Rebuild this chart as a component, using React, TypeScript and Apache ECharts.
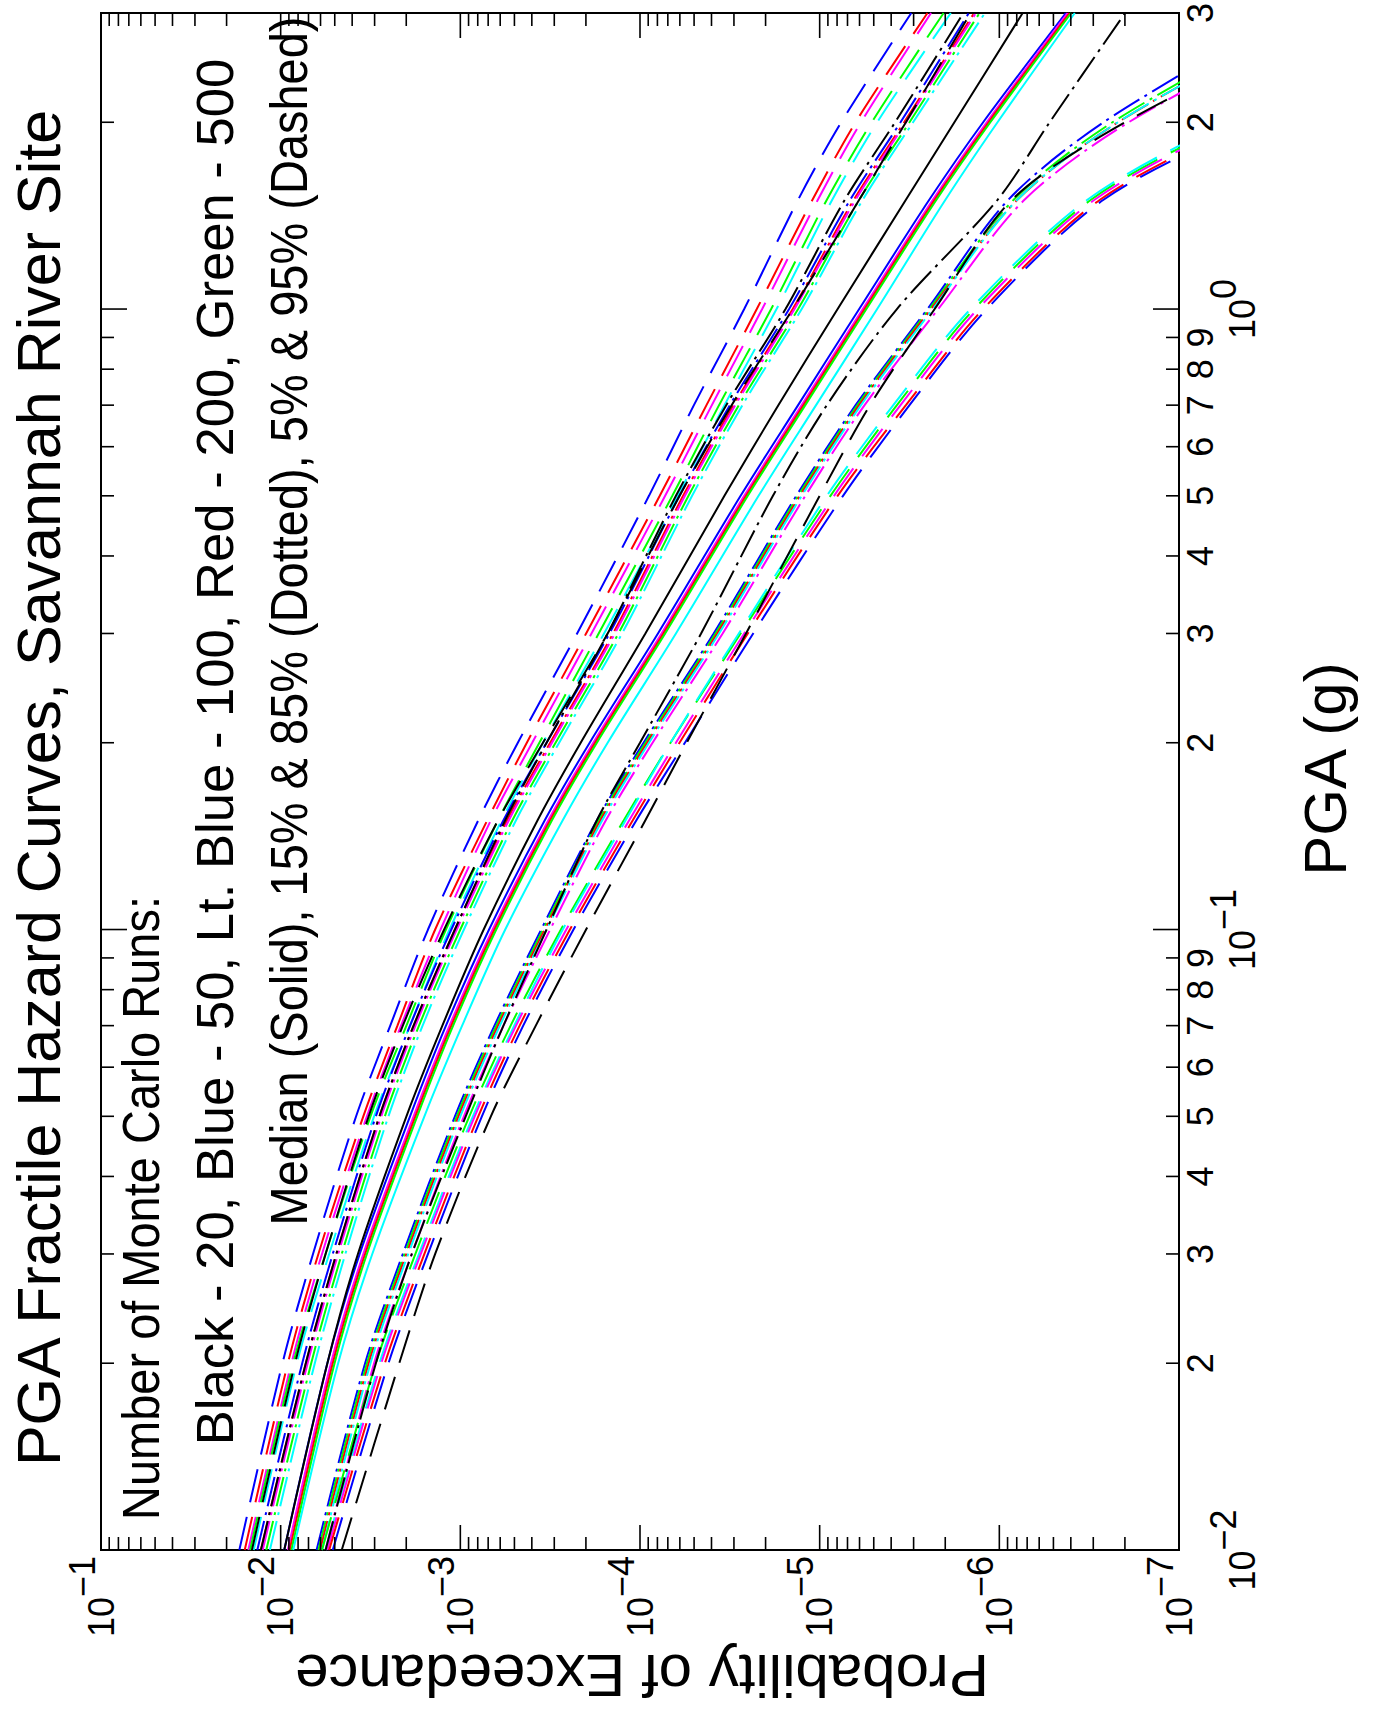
import { useEffect, useRef } from 'react';
import * as echarts from 'echarts';

// ---------- data ----------
// PGA values (g) at which every curve was read
const PGA_G = [0.01, 0.02, 0.03, 0.05, 0.07, 0.1, 0.15, 0.2, 0.3, 0.5, 0.7, 1.0, 1.5, 2.0, 3.0];

// log10(probability of exceedance) at each PGA_G value
// 95% fractile (dashed)
const BLUE_P95 = [-1.77, -2.01, -2.18, -2.42, -2.61, -2.82, -3.10, -3.32, -3.65, -4.05, -4.30, -4.58, -4.88, -5.12, -5.51];
const RED_P95 = [-1.80, -2.04, -2.21, -2.46, -2.65, -2.86, -3.15, -3.37, -3.70, -4.11, -4.37, -4.65, -4.96, -5.20, -5.60];
const MAGENTA_P95 = [-1.82, -2.06, -2.23, -2.48, -2.67, -2.89, -3.17, -3.40, -3.73, -4.14, -4.40, -4.68, -4.99, -5.23, -5.62];
const GREEN_P95 = [-1.83, -2.07, -2.25, -2.50, -2.70, -2.92, -3.21, -3.44, -3.77, -4.18, -4.44, -4.73, -5.04, -5.29, -5.69];
const CYAN_P95 = [-1.85, -2.09, -2.27, -2.52, -2.72, -2.94, -3.23, -3.46, -3.80, -4.21, -4.47, -4.76, -5.07, -5.32, -5.73];
const BLACK_P95 = [-1.84, -2.08, -2.25, -2.49, -2.68, -2.91, -3.21, -3.46, -3.82, -4.22, -4.51, -4.85, -5.22, -5.48, -5.84];
// 85% fractile (dotted)
const BLUE_P85 = [-1.87, -2.12, -2.29, -2.53, -2.72, -2.95, -3.24, -3.48, -3.83, -4.22, -4.50, -4.83, -5.17, -5.45, -5.83];
const RED_P85 = [-1.89, -2.14, -2.31, -2.55, -2.74, -2.97, -3.26, -3.50, -3.85, -4.24, -4.52, -4.85, -5.19, -5.47, -5.86];
const MAGENTA_P85 = [-1.90, -2.15, -2.32, -2.56, -2.75, -2.98, -3.27, -3.51, -3.86, -4.25, -4.53, -4.86, -5.20, -5.48, -5.87];
const GREEN_P85 = [-1.92, -2.17, -2.34, -2.58, -2.77, -3.00, -3.29, -3.53, -3.88, -4.27, -4.55, -4.88, -5.22, -5.50, -5.89];
const CYAN_P85 = [-1.94, -2.19, -2.36, -2.60, -2.79, -3.02, -3.31, -3.55, -3.90, -4.29, -4.57, -4.90, -5.24, -5.52, -5.92];
const BLACK_P85 = [-1.89, -2.14, -2.31, -2.55, -2.74, -2.97, -3.25, -3.48, -3.82, -4.20, -4.48, -4.81, -5.14, -5.42, -5.80];
// median (solid)
const BLUE_P50 = [-2.02, -2.26, -2.44, -2.72, -2.92, -3.16, -3.47, -3.72, -4.10, -4.56, -4.88, -5.22, -5.61, -5.91, -6.37];
const MAGENTA_P50 = [-2.04, -2.28, -2.46, -2.74, -2.94, -3.18, -3.49, -3.74, -4.12, -4.58, -4.90, -5.24, -5.63, -5.93, -6.38];
const RED_P50 = [-2.05, -2.29, -2.47, -2.75, -2.95, -3.19, -3.50, -3.75, -4.13, -4.59, -4.91, -5.25, -5.64, -5.94, -6.39];
const GREEN_P50 = [-2.06, -2.30, -2.48, -2.76, -2.96, -3.20, -3.51, -3.76, -4.14, -4.60, -4.92, -5.26, -5.65, -5.95, -6.40];
const CYAN_P50 = [-2.07, -2.32, -2.51, -2.80, -3.01, -3.25, -3.57, -3.82, -4.20, -4.66, -4.98, -5.32, -5.70, -5.99, -6.42];
const BLACK_P50 = [-2.02, -2.26, -2.43, -2.70, -2.90, -3.13, -3.43, -3.67, -4.03, -4.47, -4.77, -5.10, -5.48, -5.75, -6.13];
// 15% fractile (dotted)
const BLUE_P15 = [-2.20, -2.47, -2.68, -2.97, -3.19, -3.45, -3.76, -4.02, -4.41, -4.87, -5.20, -5.60, -6.05, -6.58, -7.60];
const GREEN_P15 = [-2.21, -2.48, -2.69, -2.98, -3.20, -3.46, -3.77, -4.03, -4.42, -4.88, -5.21, -5.61, -6.08, -6.63, -7.70];
const RED_P15 = [-2.22, -2.49, -2.70, -2.99, -3.21, -3.47, -3.78, -4.04, -4.43, -4.89, -5.22, -5.62, -6.10, -6.66, -7.75];
const CYAN_P15 = [-2.23, -2.50, -2.71, -3.00, -3.22, -3.48, -3.79, -4.05, -4.44, -4.90, -5.23, -5.63, -6.10, -6.66, -7.75];
const MAGENTA_P15 = [-2.25, -2.52, -2.73, -3.02, -3.24, -3.50, -3.81, -4.07, -4.46, -4.92, -5.25, -5.66, -6.14, -6.72, -7.85];
const BLACK_P15 = [-2.25, -2.53, -2.73, -3.03, -3.24, -3.48, -3.76, -4.00, -4.34, -4.74, -5.04, -5.43, -5.99, -6.28, -6.70];
// 5% fractile (dashed)
const GREEN_P05 = [-2.23, -2.53, -2.75, -3.05, -3.28, -3.56, -3.91, -4.17, -4.56, -5.06, -5.43, -5.86, -6.51, -7.30, -8.75];
const CYAN_P05 = [-2.25, -2.55, -2.77, -3.07, -3.30, -3.57, -3.92, -4.17, -4.55, -5.04, -5.41, -5.84, -6.49, -7.27, -8.70];
const MAGENTA_P05 = [-2.26, -2.56, -2.78, -3.08, -3.31, -3.59, -3.94, -4.20, -4.58, -5.08, -5.45, -5.88, -6.53, -7.33, -8.80];
const RED_P05 = [-2.27, -2.58, -2.80, -3.10, -3.33, -3.61, -3.96, -4.22, -4.60, -5.10, -5.48, -5.91, -6.56, -7.38, -8.85];
const BLUE_P05 = [-2.29, -2.60, -2.82, -3.12, -3.35, -3.63, -3.98, -4.25, -4.63, -5.13, -5.50, -5.93, -6.58, -7.42, -8.90];
const BLACK_P05 = [-2.34, -2.66, -2.86, -3.17, -3.42, -3.70, -4.03, -4.26, -4.59, -5.00, -5.28, -5.64, -6.07, -6.70, -7.90];

// axis ticks / labels
const PROB_DECADES = [1e-7, 1e-6, 1e-5, 1e-4, 1e-3, 1e-2, 1e-1];
const PGA_DECADES = [0.01, 0.1, 1];
const MINOR_STEPS = [2, 3, 4, 5, 6, 7, 8, 9];
const PGA_DIGIT_LABELS = [0.02, 0.03, 0.04, 0.05, 0.06, 0.07, 0.08, 0.09, 0.2, 0.3, 0.4, 0.5, 0.6, 0.7, 0.8, 0.9, 2, 3];
const PGA_MINOR_TICKS = [0.02, 0.03, 0.04, 0.05, 0.06, 0.07, 0.08, 0.09, 0.2, 0.3, 0.4, 0.5, 0.6, 0.7, 0.8, 0.9, 2];

// texts
const TITLE = 'PGA Fractile Hazard Curves, Savannah River Site';
const LEGEND_1 = 'Number of Monte Carlo Runs:';
const LEGEND_2 = 'Black - 20, Blue - 50, Lt. Blue - 100, Red - 200, Green - 500';
const LEGEND_3 = 'Median (Solid), 15% & 85% (Dotted), 5% & 95% (Dashed)';
const X_NAME = 'Probability of Exceedance';
const Y_NAME = 'PGA (g)';

// ---------- styles ----------
const BLACK = '#000000';
const BLUE = '#0000ff';
const CYAN = '#00ffff';
const RED = '#ff0000';
const GREEN = '#00ff00';
const MAGENTA = '#ff00ff';
const DASHED = [34, 15];
const DOTTED = [30, 6, 3, 6];
const SANS = "'Liberation Sans', Arial, sans-serif";
const NARROW = "'Liberation Sans Narrow', 'Liberation Sans', Arial, sans-serif";

const CURVES = [
  { name: 'Blue 95%', color: BLUE, dash: DASHED, logp: BLUE_P95 },
  { name: 'Red 95%', color: RED, dash: DASHED, logp: RED_P95 },
  { name: 'Magenta 95%', color: MAGENTA, dash: DASHED, logp: MAGENTA_P95 },
  { name: 'Green 95%', color: GREEN, dash: DASHED, logp: GREEN_P95 },
  { name: 'Lt. Blue 95%', color: CYAN, dash: DASHED, logp: CYAN_P95 },
  { name: 'Blue 85%', color: BLUE, dash: DOTTED, logp: BLUE_P85 },
  { name: 'Red 85%', color: RED, dash: DOTTED, logp: RED_P85 },
  { name: 'Magenta 85%', color: MAGENTA, dash: DOTTED, logp: MAGENTA_P85 },
  { name: 'Green 85%', color: GREEN, dash: DOTTED, logp: GREEN_P85 },
  { name: 'Lt. Blue 85%', color: CYAN, dash: DOTTED, logp: CYAN_P85 },
  { name: 'Blue median', color: BLUE, dash: 'solid', logp: BLUE_P50 },
  { name: 'Magenta median', color: MAGENTA, dash: 'solid', logp: MAGENTA_P50 },
  { name: 'Red median', color: RED, dash: 'solid', logp: RED_P50 },
  { name: 'Green median', color: GREEN, dash: 'solid', logp: GREEN_P50 },
  { name: 'Lt. Blue median', color: CYAN, dash: 'solid', logp: CYAN_P50 },
  { name: 'Blue 15%', color: BLUE, dash: DOTTED, logp: BLUE_P15 },
  { name: 'Green 15%', color: GREEN, dash: DOTTED, logp: GREEN_P15 },
  { name: 'Red 15%', color: RED, dash: DOTTED, logp: RED_P15 },
  { name: 'Lt. Blue 15%', color: CYAN, dash: DOTTED, logp: CYAN_P15 },
  { name: 'Magenta 15%', color: MAGENTA, dash: DOTTED, logp: MAGENTA_P15 },
  { name: 'Green 5%', color: GREEN, dash: DASHED, logp: GREEN_P05 },
  { name: 'Lt. Blue 5%', color: CYAN, dash: DASHED, logp: CYAN_P05 },
  { name: 'Magenta 5%', color: MAGENTA, dash: DASHED, logp: MAGENTA_P05 },
  { name: 'Red 5%', color: RED, dash: DASHED, logp: RED_P05 },
  { name: 'Blue 5%', color: BLUE, dash: DASHED, logp: BLUE_P05 },
  { name: 'Black 95%', color: BLACK, dash: DASHED, logp: BLACK_P95 },
  { name: 'Black 85%', color: BLACK, dash: DOTTED, logp: BLACK_P85 },
  { name: 'Black median', color: BLACK, dash: 'solid', logp: BLACK_P50 },
  { name: 'Black 15%', color: BLACK, dash: DOTTED, logp: BLACK_P15 },
  { name: 'Black 5%', color: BLACK, dash: DASHED, logp: BLACK_P05 },
];

// "10" with a raised exponent of the same size (exponent raised by its bottom padding)
const supRich = {
  b: { fontSize: 36, fontFamily: NARROW, color: '#000', verticalAlign: 'bottom' },
  s: { fontSize: 36, fontFamily: NARROW, color: '#000', verticalAlign: 'top', padding: [0, 0, 19, 0] },
};

function decadeLabel(v: number) {
  const e = Math.round(Math.log10(v));
  const sup = e < 0 ? '\u2212' + String(-e) : String(e);
  return '{b|10}{s|' + sup + '}';
}

function digitLabel(v: number) {
  const e = Math.floor(Math.log10(v) + 1e-9);
  return String(Math.round(v / Math.pow(10, e)));
}

function buildOption() {
  const xTicks: number[][] = [];
  PROB_DECADES.forEach((d, i) => {
    xTicks.push([d, 1, 1]);
    if (i < PROB_DECADES.length - 1) MINOR_STEPS.forEach((m) => xTicks.push([d * m, 1, 0]));
  });
  const yTicks: number[][] = [];
  PGA_DECADES.forEach((d) => yTicks.push([1e-3, d, 1]));
  PGA_MINOR_TICKS.forEach((v) => yTicks.push([1e-3, v, 0]));

  const lineSeries = CURVES.map((c) => ({
    type: 'line',
    name: c.name,
    data: PGA_G.map((g, i) => [Math.pow(10, c.logp[i]), g]),
    showSymbol: false,
    symbol: 'none',
    smooth: 0.3,
    clip: true,
    silent: true,
    z: c.color === BLACK ? 4 : 3,
    lineStyle: { color: c.color, width: 2, type: c.dash },
  }));

  const axisCommon = {
    axisLine: { show: false },
    axisTick: { show: false },
    splitLine: { show: false },
    minorTick: { show: false },
    minorSplitLine: { show: false },
  };

  return {
    animation: false,
    backgroundColor: '#ffffff',
    grid: {
      left: 101,
      top: 13,
      right: 199,
      bottom: 166,
      show: true,
      borderColor: '#000',
      borderWidth: 2,
      backgroundColor: 'transparent',
      containLabel: false,
      outerBoundsMode: 'none',
    },
    xAxis: [
      {
        type: 'log',
        logBase: 10,
        min: 1e-7,
        max: 1e-1,
        inverse: true,
        position: 'bottom',
        ...axisCommon,
        axisLabel: {
          show: true,
          rotate: 90,
          margin: 6,
          padding: [0, 0, 19, 0],
          customValues: PROB_DECADES,
          formatter: decadeLabel,
          rich: supRich,
          color: '#000',
        },
      },
    ],
    yAxis: [
      {
        type: 'log',
        logBase: 10,
        min: 0.01,
        max: 3,
        position: 'right',
        ...axisCommon,
        axisLabel: {
          show: true,
          rotate: 90,
          margin: 3,
          customValues: PGA_DIGIT_LABELS,
          formatter: digitLabel,
          fontSize: 36,
          lineHeight: 36,
          fontFamily: NARROW,
          color: '#000',
        },
      },
      {
        type: 'log',
        logBase: 10,
        min: 0.01,
        max: 3,
        position: 'right',
        ...axisCommon,
        axisLabel: {
          show: true,
          rotate: 90,
          margin: 26,
          customValues: PGA_DECADES,
          formatter: decadeLabel,
          rich: supRich,
          color: '#000',
        },
      },
    ],
    series: [
      ...lineSeries,
      {
        type: 'custom',
        name: 'prob ticks',
        coordinateSystem: 'cartesian2d',
        xAxisIndex: 0,
        yAxisIndex: 0,
        silent: true,
        z: 5,
        data: xTicks,
        encode: { x: 0, y: 1 },
        renderItem: (params: any, api: any) => {
          const cs = params.coordSys;
          const px = api.coord([api.value(0), api.value(1)])[0];
          const len = api.value(2) ? 25 : 13;
          const bottom = cs.y + cs.height;
          const st = { stroke: '#000', lineWidth: 1.6 };
          return {
            type: 'group',
            children: [
              { type: 'line', shape: { x1: px, y1: bottom, x2: px, y2: bottom - len }, style: st },
              { type: 'line', shape: { x1: px, y1: cs.y, x2: px, y2: cs.y + len }, style: st },
            ],
          };
        },
      },
      {
        type: 'custom',
        name: 'pga ticks',
        coordinateSystem: 'cartesian2d',
        xAxisIndex: 0,
        yAxisIndex: 0,
        silent: true,
        z: 5,
        data: yTicks,
        encode: { x: 0, y: 1 },
        renderItem: (params: any, api: any) => {
          const cs = params.coordSys;
          const py = api.coord([api.value(0), api.value(1)])[1];
          const len = api.value(2) ? 26 : 13;
          const right = cs.x + cs.width;
          const st = { stroke: '#000', lineWidth: 1.6 };
          return {
            type: 'group',
            children: [
              { type: 'line', shape: { x1: right, y1: py, x2: right - len, y2: py }, style: st },
              { type: 'line', shape: { x1: cs.x, y1: py, x2: cs.x + len, y2: py }, style: st },
            ],
          };
        },
      },
    ],
    graphic: {
      elements: [
        {
          type: 'text', x: 39, y: 788, rotation: Math.PI / 2, silent: true,
          style: { text: TITLE, fontSize: 61, fontFamily: SANS, fill: '#000', align: 'center', verticalAlign: 'middle' },
        },
        {
          type: 'text', x: 141, y: 1208, rotation: Math.PI / 2, scaleY: 1.12, silent: true,
          style: { text: LEGEND_1, fontSize: 47, fontFamily: SANS, fill: '#000', align: 'center', verticalAlign: 'middle' },
        },
        {
          type: 'text', x: 214, y: 752, rotation: Math.PI / 2, scaleX: 1.12, scaleY: 1.12, silent: true,
          style: { text: LEGEND_2, fontSize: 47, fontFamily: SANS, fill: '#000', align: 'center', verticalAlign: 'middle' },
        },
        {
          type: 'text', x: 289, y: 621, rotation: Math.PI / 2, scaleY: 1.12, silent: true,
          style: { text: LEGEND_3, fontSize: 47, fontFamily: SANS, fill: '#000', align: 'center', verticalAlign: 'middle' },
        },
        {
          type: 'text', x: 1325, y: 769, rotation: Math.PI / 2, silent: true,
          style: { text: Y_NAME, fontSize: 60, fontFamily: SANS, fill: '#000', align: 'center', verticalAlign: 'middle' },
        },
        {
          type: 'text', x: 642, y: 1675, rotation: Math.PI, silent: true,
          style: { text: X_NAME, fontSize: 60, fontFamily: SANS, fill: '#000', align: 'center', verticalAlign: 'middle' },
        },
      ],
    },
  };
}

export default function App() {
  const ref = useRef<HTMLDivElement>(null);
  useEffect(() => {
    if (!ref.current) return;
    const chart = echarts.init(ref.current, null, { renderer: 'svg' });
    chart.setOption(buildOption() as any);
    return () => chart.dispose();
  }, []);
  return (
    <div
      ref={ref}
      style={{ position: 'absolute', left: 0, top: 0, width: 1378, height: 1716, background: '#fff' }}
    />
  );
}
